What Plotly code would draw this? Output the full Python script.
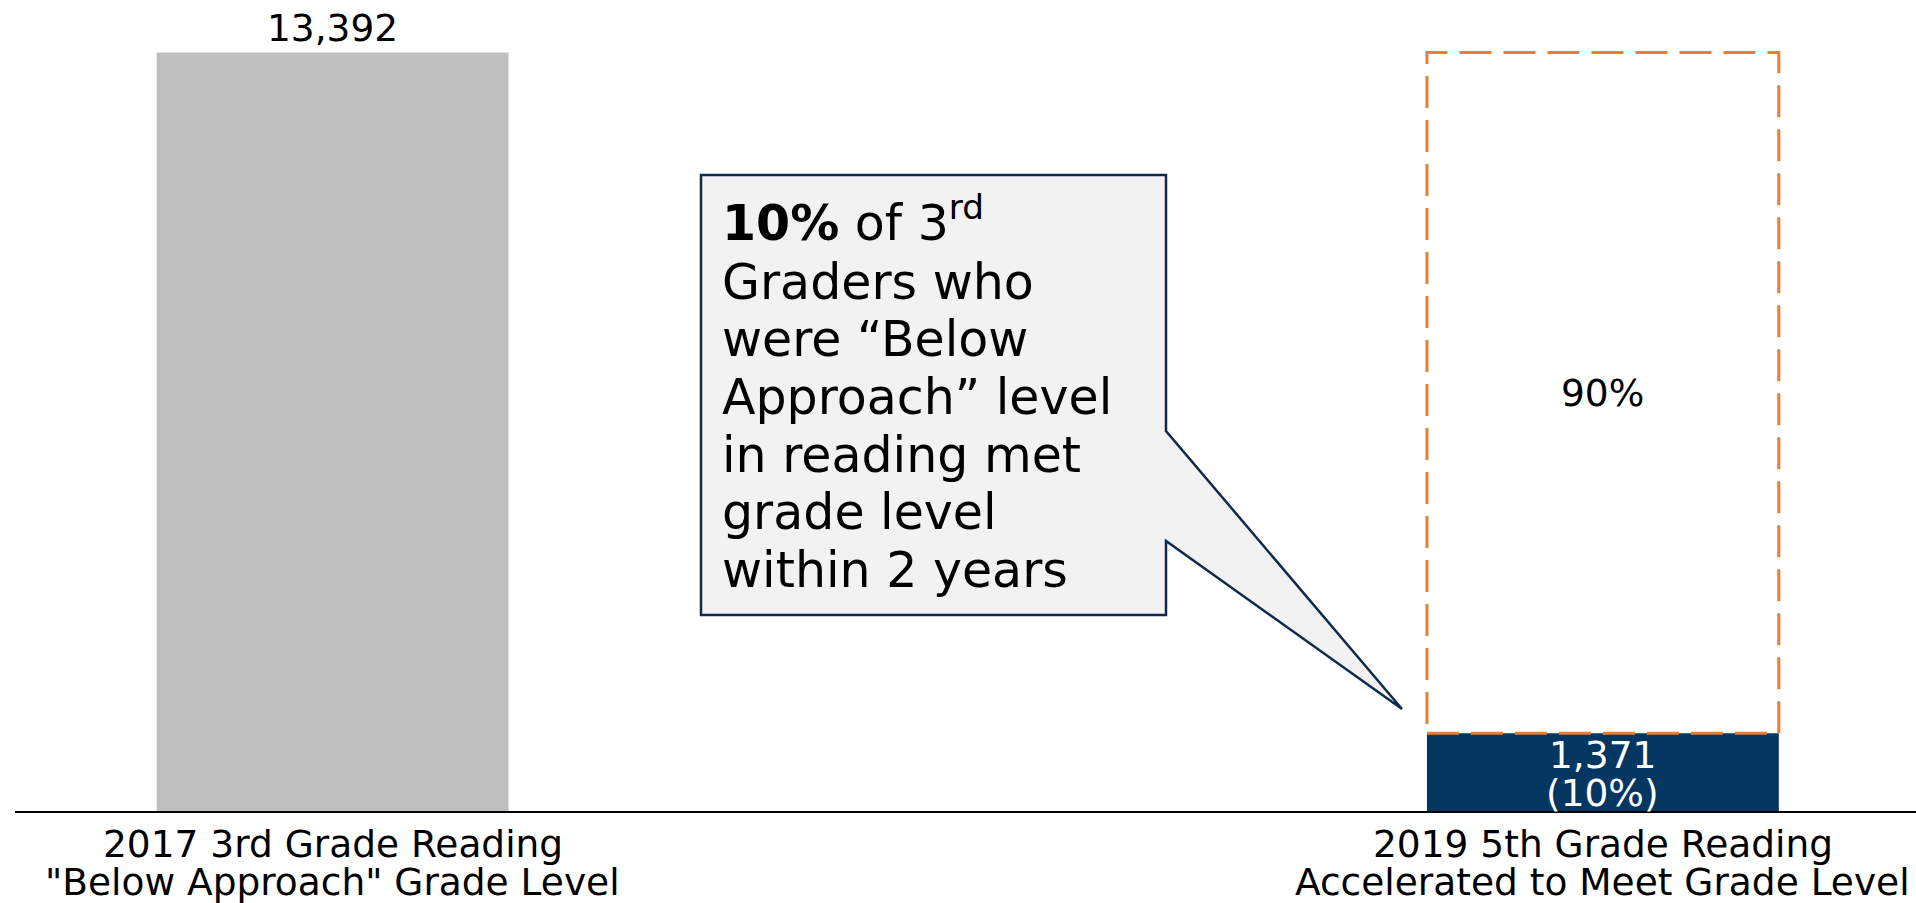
import plotly.graph_objects as go

# Category labels, one entry per line (middle slot left empty for the callout)
categories = [
    ("2017 3rd Grade Reading", "\"Below Approach\" Grade Level"),
    ("", ""),
    ("2019 5th Grade Reading", "Accelerated to Meet Grade Level"),
]
positions = [0, 1, 2]

# Student counts
below_2017 = 13392          # 3rd graders "Below Approach" in 2017
met_2019 = 1371             # of those, meeting grade level in 5th grade (2019)
not_met_2019 = below_2017 - met_2019

pct_met = round(met_2019 / below_2017 * 100)
pct_not_met = 100 - pct_met

GRAY = "#BFBFBF"
NAVY = "#033661"
ORANGE = "#ED7D31"
CALLOUT_FILL = "#F2F2F2"
CALLOUT_LINE = "#0E2B4C"
FONT = "DejaVu Sans"

W, H = 1916, 903
ML, MR, MT, MB = 15, 0, 0, 92
BAR_W = 0.554
Y_MAX = 14320
LABEL_SIZE = 37.5
LINE_GAP = 38  # px between stacked label lines

fig = go.Figure()

fig.add_trace(go.Bar(
    x=[positions[0]], y=[below_2017], width=BAR_W,
    marker=dict(color=GRAY, line=dict(width=0)),
    text=[f"{below_2017:,}"], textposition="outside",
    textfont=dict(family=FONT, size=LABEL_SIZE, color="black"),
    cliponaxis=False, hoverinfo="skip",
))

fig.add_trace(go.Bar(
    x=[positions[2]], y=[met_2019], width=BAR_W,
    marker=dict(color=NAVY, line=dict(width=0)),
    hoverinfo="skip",
))

# Remaining share drawn as a dashed outline stacked on the navy bar
fig.add_shape(type="rect", xref="x", yref="y",
              x0=positions[2] - BAR_W / 2, x1=positions[2] + BAR_W / 2,
              y0=met_2019, y1=met_2019 + not_met_2019,
              line=dict(color=ORANGE, width=3, dash="32px,12px"),
              fillcolor="rgba(0,0,0,0)", layer="above")

fig.add_annotation(x=positions[2], y=met_2019 + not_met_2019 / 2,
                   text=f"{pct_not_met}%", showarrow=False,
                   font=dict(family=FONT, size=LABEL_SIZE, color="black"))

for text, shift in [(f"{met_2019:,}", LINE_GAP / 2), (f"({pct_met}%)", -LINE_GAP / 2)]:
    fig.add_annotation(x=positions[2], y=met_2019 / 2, yshift=shift - 2,
                       text=text, showarrow=False,
                       font=dict(family=FONT, size=LABEL_SIZE, color="white"))

# Category labels under the axis
for pos, (line1, line2) in zip(positions, categories):
    if not line1:
        continue
    for j, line in enumerate((line1, line2)):
        fig.add_annotation(x=pos, xref="x", y=0, yref="paper",
                           yanchor="middle", yshift=-(33 + j * LINE_GAP),
                           text=line, showarrow=False,
                           font=dict(family=FONT, size=LABEL_SIZE, color="black"))

# Callout box with pointer, laid out in pixel positions converted to paper coords
plot_w = W - ML - MR
plot_h = H - MT - MB


def px(xp, yp):
    return (xp - ML) / plot_w, (H - MB - yp) / plot_h


pts = [(701, 175), (1166, 175), (1166, 431), (1402, 709),
       (1166, 541), (1166, 615), (701, 615)]
path = "M " + " L ".join(f"{px(a, b)[0]:.5f},{px(a, b)[1]:.5f}" for a, b in pts) + " Z"
fig.add_shape(type="path", xref="paper", yref="paper", path=path,
              fillcolor=CALLOUT_FILL, line=dict(color=CALLOUT_LINE, width=2.5),
              layer="above")

callout_lines = [
    f"<b>{pct_met}%</b> of 3<sup>rd</sup>",
    "Graders who",
    "were \u201cBelow",
    "Approach\u201d level",
    "in reading met",
    "grade level",
    "within 2 years",
]
for i, line in enumerate(callout_lines):
    ax, ay = px(720, 225 + i * 57.5 - (5 if i == 0 else 0))
    fig.add_annotation(xref="paper", yref="paper", x=ax, y=ay,
                       xanchor="left", yanchor="middle", text=line,
                       showarrow=False, align="left",
                       font=dict(family=FONT, size=49, color="black"))

fig.update_layout(
    width=W, height=H,
    margin=dict(l=ML, r=MR, t=MT, b=MB),
    plot_bgcolor="white", paper_bgcolor="white",
    showlegend=False, barmode="overlay",
    xaxis=dict(range=[-0.5, 2.493], tickvals=positions, showticklabels=False,
               showline=True, linecolor="black", linewidth=2,
               showgrid=False, zeroline=False, ticks="",
               fixedrange=True),
    yaxis=dict(range=[0, Y_MAX], visible=False, fixedrange=True),
)

fig.write_html("out.html", config={"displayModeBar": False})
